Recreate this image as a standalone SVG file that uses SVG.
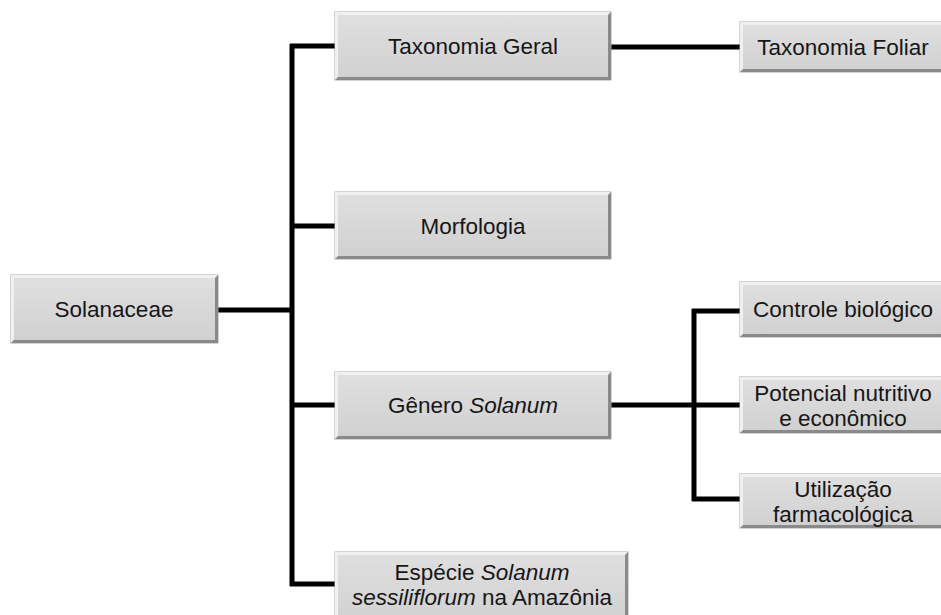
<svg xmlns="http://www.w3.org/2000/svg" width="941" height="615" viewBox="0 0 941 615">
<defs>
<linearGradient id="g" x1="0" y1="0" x2="0" y2="1">
<stop offset="0" stop-color="#e0e0e0"/>
<stop offset="1" stop-color="#d0d0d0"/>
</linearGradient>
</defs>
<style>
.box{fill:url(#g);stroke:#a8a8a8;stroke-width:1}
.lt{fill:#f0f0f0}
.dk{fill:#8a8a8a}
.t{font-family:"Liberation Sans",Arial,sans-serif;font-size:22.5px;fill:#161616;text-anchor:middle}
.i{font-style:italic}
.c{fill:none;stroke:#000;stroke-width:5}
</style>
<rect width="941" height="615" fill="#fff"/>
<g id="connectors">
<path class="c" d="M218 310H292M292 44V586M290 46H335M290 226H335M290 405H335M290 584H335"/>
<path class="c" d="M611 47H740"/>
<path class="c" d="M611 405H740M694 309V501M692 311H740M692 499H740"/>
</g>
<g id="n-solanaceae">
<rect class="box" x="11" y="275" width="207" height="68"/>
<polygon class="lt" points="11,275 218,275 215,278 14,278 14,340 11,343"/>
<polygon class="dk" points="218,275 218,343 11,343 14,340 215,340 215,278"/>
<text class="t" x="114" y="317">Solanaceae</text>
</g>
<g id="n-taxgeral">
<rect class="box" x="335" y="12" width="276" height="68"/>
<polygon class="lt" points="335,12 611,12 608,15 338,15 338,77 335,80"/>
<polygon class="dk" points="611,12 611,80 335,80 338,77 608,77 608,15"/>
<text class="t" x="473" y="54">Taxonomia Geral</text>
</g>
<g id="n-morfologia">
<rect class="box" x="335" y="192" width="276" height="67"/>
<polygon class="lt" points="335,192 611,192 608,195 338,195 338,256 335,259"/>
<polygon class="dk" points="611,192 611,259 335,259 338,256 608,256 608,195"/>
<text class="t" x="473" y="234">Morfologia</text>
</g>
<g id="n-genero">
<rect class="box" x="335" y="372" width="276" height="67"/>
<polygon class="lt" points="335,372 611,372 608,375 338,375 338,436 335,439"/>
<polygon class="dk" points="611,372 611,439 335,439 338,436 608,436 608,375"/>
<text class="t" x="473" y="413">Gênero <tspan class="i">Solanum</tspan></text>
</g>
<g id="n-especie">
<rect class="box" x="335" y="552" width="293" height="72"/>
<polygon class="lt" points="335,552 628,552 625,555 338,555 338,621 335,624"/>
<polygon class="dk" points="628,552 628,624 625,621 625,555"/>
<text class="t" x="482" y="580">Espécie <tspan class="i">Solanum</tspan></text>
<text class="t" x="482" y="605"><tspan class="i">sessiliflorum</tspan> na Amazônia</text>
</g>
<g id="n-taxfoliar">
<rect class="box" x="740" y="22" width="206" height="50"/>
<polygon class="lt" points="740,22 946,22 943,25 743,25 743,69 740,72"/>
<polygon class="dk" points="946,22 946,72 740,72 743,69 943,69 943,25"/>
<text class="t" x="843" y="55">Taxonomia Foliar</text>
</g>
<g id="n-controle">
<rect class="box" x="740" y="282" width="206" height="55"/>
<polygon class="lt" points="740,282 946,282 943,285 743,285 743,334 740,337"/>
<polygon class="dk" points="946,282 946,337 740,337 743,334 943,334 943,285"/>
<text class="t" x="843" y="317">Controle biológico</text>
</g>
<g id="n-potencial">
<rect class="box" x="740" y="377" width="206" height="56"/>
<polygon class="lt" points="740,377 946,377 943,380 743,380 743,430 740,433"/>
<polygon class="dk" points="946,377 946,433 740,433 743,430 943,430 943,380"/>
<text class="t" x="843" y="401">Potencial nutritivo</text>
<text class="t" x="843" y="426">e econômico</text>
</g>
<g id="n-utilizacao">
<rect class="box" x="740" y="474" width="206" height="54"/>
<polygon class="lt" points="740,474 946,474 943,477 743,477 743,525 740,528"/>
<polygon class="dk" points="946,474 946,528 740,528 743,525 943,525 943,477"/>
<text class="t" x="843" y="497">Utilização</text>
<text class="t" x="843" y="522">farmacológica</text>
</g>
</svg>
